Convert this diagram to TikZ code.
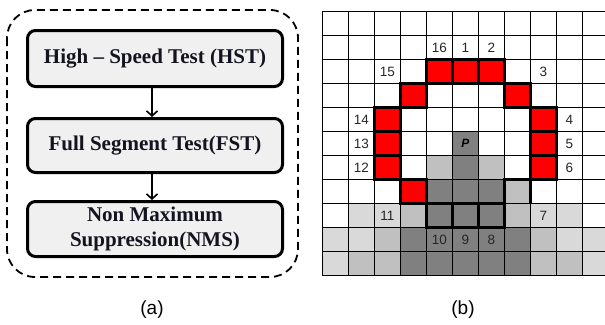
\documentclass[tikz,border=0pt]{standalone}
\usepackage{fontspec}
\setmainfont{Liberation Serif}
\newfontfamily\boxfont{Liberation Serif}
\newfontfamily\numfont{Liberation Sans}
\usetikzlibrary{arrows.meta}

\definecolor{cellred}{HTML}{FF0000}
\definecolor{darkcell}{HTML}{808080}
\definecolor{midcell}{HTML}{C0C0C0}
\definecolor{lightcell}{HTML}{D9D9D9}
\definecolor{boxfill}{HTML}{F0F0F0}
\definecolor{labelgray}{HTML}{262626}
\definecolor{boxtext}{HTML}{141420}

\tikzset{
  stage/.style={draw=black, fill=boxfill, line width=3pt, rounded corners=8pt,
    minimum width=255pt, align=center, text=boxtext,
    font=\boxfont\bfseries\fontsize{21}{24.5}\selectfont},
  flow/.style={line width=1.6pt, -{Straight Barb[length=5pt,width=11pt,line width=1.6pt]}},
  gridline/.style={line width=0.8pt, black},
  ring/.style={line width=3pt, black, line join=miter},
  pixlabel/.style={font=\numfont\fontsize{13.5}{15}\selectfont, text=labelgray},
  caption/.style={font=\numfont\fontsize{19}{22}\selectfont}
}

\begin{document}
\begin{tikzpicture}[x=1pt,y=-1pt]
\useasboundingbox (0,0) rectangle (605,324);

% ---- (a) processing pipeline ----
\draw[line width=1.8pt, dash pattern=on 8pt off 5pt, rounded corners=28pt]
  (7,10) rectangle (298,277);
\node[stage, minimum height=56pt] (hst) at (155,58.5) {High – Speed Test (HST)};
\node[stage, minimum height=54pt] (fst) at (155,145.5) {Full Segment Test(FST)};
\node[stage, minimum height=55pt, inner sep=2pt] (nms) at (155,229) {Non Maximum\\Suppression(NMS)};
\draw[flow] ([xshift=-3pt]hst.south) -- ([xshift=-3pt]fst.north);
\draw[flow] ([xshift=-3pt]fst.south) -- ([xshift=-3pt]nms.north);
\node[caption] (capa) at (152,310) {(a)};

% ---- (b) pixel neighbourhood ----
\begin{scope}
\clip (318,0) rectangle (605,324);
\begin{scope}[shift={(322.3,11.7)}, x=26pt, y=-24pt]
  \foreach \c/\r in {1/8,2/8,8/8,9/8,0/9,1/9,9/9,10/9,0/10,10/10}
    \fill[lightcell] (\c,\r) rectangle ++(1,1);
  \foreach \c/\r in {4/6,6/6,7/7,3/8,7/8,2/9,8/9,1/10,2/10,8/10,9/10}
    \fill[midcell] (\c,\r) rectangle ++(1,1);
  \foreach \c/\r in {5/5,5/6,4/7,5/7,6/7,4/8,5/8,6/8,3/9,4/9,5/9,6/9,7/9,3/10,4/10,5/10,6/10,7/10}
    \fill[darkcell] (\c,\r) rectangle ++(1,1);
  \foreach \c/\r in {4/2,5/2,6/2,3/3,7/3,2/4,2/5,2/6,8/4,8/5,8/6,3/7}
    \fill[cellred] (\c,\r) rectangle ++(1,1);

  \foreach \c in {0,...,11} \draw[gridline] (\c,0) -- (\c,11);
  \foreach \r in {0,...,11} \draw[gridline] (0,\r) -- (11,\r);

  % the sixteen circle pixels
  \foreach \c/\r in {4/2,5/2,6/2,3/3,7/3,2/4,2/5,2/6,8/4,8/5,8/6,3/7,4/8,5/8,6/8}
    \draw[ring] (\c,\r) rectangle ++(1,1);
  \draw[ring] (7,8) -- (7,7) -- (8,7) -- (8,8);

  % pixel numbers
  \foreach \n/\c/\r in {16/4/1,1/5/1,2/6/1,15/2/2,3/8/2,14/1/4,13/1/5,12/1/6,
                        4/9/4,5/9/5,6/9/6,11/2/8,7/8/8,10/4/9,9/5/9,8/6/9}
    \node[pixlabel] (num\n) at (\c+0.5,\r+0.5) {\n};
  \node[font=\numfont\bfseries\itshape\fontsize{12}{14}\selectfont, text=black] (centre) at (5.5,5.5) {P};
\end{scope}
\end{scope}
\node[caption] (capb) at (463,310) {(b)};
\end{tikzpicture}
\end{document}
